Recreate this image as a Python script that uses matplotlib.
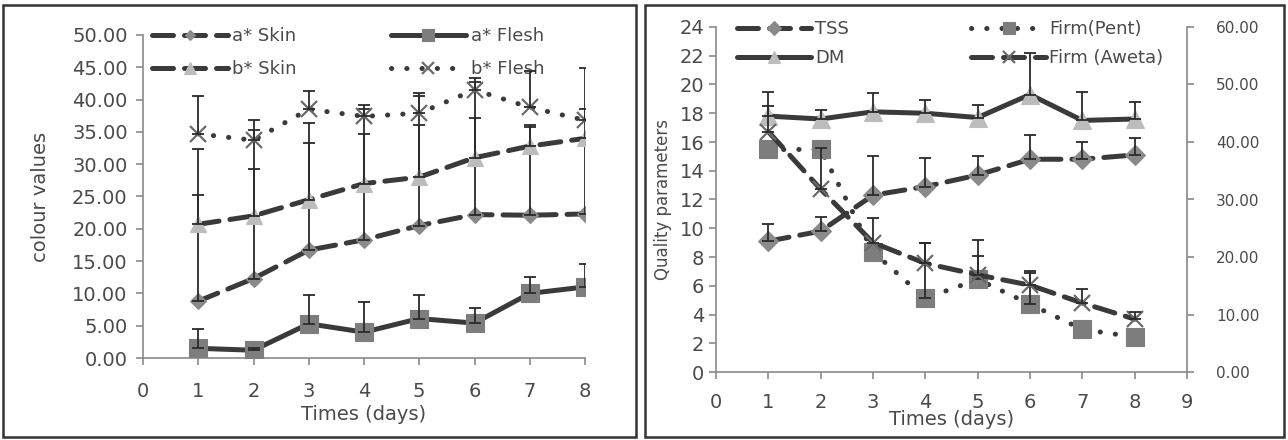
import numpy as np
import matplotlib
matplotlib.use('Agg')
import matplotlib.pyplot as plt
from matplotlib.patches import Rectangle

# %% Data
days = [1, 2, 3, 4, 5, 6, 7, 8]

# left panel: colour values
a_skin = [8.8, 12.3, 16.7, 18.3, 20.5, 22.2, 22.1, 22.3]
a_skin_err = [16.5, 23.0, 16.6, 16.4, 15.5, 15.0, 13.6, 11.7]
a_flesh = [1.5, 1.2, 5.3, 4.0, 6.1, 5.4, 10.0, 11.0]
a_flesh_err = [3.0, 0.3, 4.4, 4.7, 3.7, 2.4, 2.6, 3.5]
b_skin = [20.7, 22.0, 24.5, 27.0, 28.0, 31.0, 32.8, 34.0]
b_skin_err = [11.6, 7.3, 11.9, 11.6, 12.5, 11.8, 3.2, 10.9]
b_flesh = [34.7, 33.7, 38.5, 37.4, 37.9, 41.5, 38.8, 36.8]
b_flesh_err = [5.8, 3.1, 2.8, 1.7, 3.1, 1.8, 5.7, 1.8]

# right panel: quality parameters (left axis) and firmness (right axis)
tss = [9.1, 9.8, 12.3, 12.9, 13.7, 14.8, 14.8, 15.1]
tss_err = [1.2, 1.0, 2.7, 2.0, 1.3, 1.7, 1.2, 1.2]
dm = [17.8, 17.6, 18.1, 18.0, 17.7, 19.3, 17.5, 17.6]
dm_err = [1.7, 0.6, 1.3, 0.9, 0.9, 2.9, 2.0, 1.2]
firm_pent = [38.7, 38.7, 20.9, 12.8, 16.1, 11.8, 7.4, 6.1]
firm_pent_err = [0, 0, 0, 9.6, 4.0, 5.4, 0, 0]
firm_aweta = [41.8, 31.8, 22.5, 18.9, 16.9, 15.1, 12.0, 9.2]
firm_aweta_err = [4.5, 7.1, 4.3, 3.5, 6.1, 2.5, 2.4, 1.3]

left_ticks = [0, 5, 10, 15, 20, 25, 30, 35, 40, 45, 50]
right_ticks = [0, 2, 4, 6, 8, 10, 12, 14, 16, 18, 20, 22, 24]
firm_ticks = [0, 10, 20, 30, 40, 50, 60]

# %% Style
plt.rcParams['font.family'] = ['DejaVu Sans']
LINE = '#3a3a3a'
TXT = '#4a4a4a'
SPINE = '#8a8a8a'
ERR = '#2a2a2a'
DASH = (0, (4.2, 2.2))
DOT = (0, (0.05, 3.0))


def series(ax, y, err, z, ls, marker, ms, mfc, label, lw=3.6):
    ln, = ax.plot(days, y, color=LINE, lw=lw, ls=ls, marker=marker, ms=ms,
                  mfc=mfc, mec=mfc, mew=1.6 if marker == 'x' else 0.8,
                  dash_capstyle='round', solid_capstyle='round',
                  zorder=z, label=label)
    err = np.array(err, dtype=float)
    m = err > 0
    ax.errorbar(np.array(days)[m], np.array(y)[m],
                yerr=[np.zeros(m.sum()), err[m]], fmt='none',
                ecolor=ERR, elinewidth=1.3, capsize=4.5, capthick=1.3,
                zorder=z + 0.5)
    return ln


def style_axis(ax, sides):
    for s in ['top', 'right', 'left', 'bottom']:
        ax.spines[s].set_visible(s in sides)
        ax.spines[s].set_color(SPINE)
        ax.spines[s].set_linewidth(1.2)
    ax.tick_params(colors=SPINE, labelcolor=TXT, direction='out',
                   length=5, width=1.2, labelsize=14)


fig = plt.figure(figsize=(12.88, 4.4), dpi=100)

# panel frames
fig.patches.append(Rectangle((3 / 1288, 3 / 440), 633 / 1288, 432 / 440,
                             transform=fig.transFigure, fill=False,
                             ec='#333333', lw=1.8))
fig.patches.append(Rectangle((645 / 1288, 3 / 440), 639 / 1288, 432 / 440,
                             transform=fig.transFigure, fill=False,
                             ec='#333333', lw=1.8))

leg_kw = dict(ncol=2, loc='upper left', frameon=False, fontsize=13,
              numpoints=1, markerscale=0.7, borderpad=0, borderaxespad=0,
              labelcolor=TXT)

# %% Left panel
ax = fig.add_axes([143 / 1288, 82 / 440, 442 / 1288, 323 / 440])
h1 = series(ax, a_skin, a_skin_err, 2, DASH, 'D', 8, '#8a8a8a', 'a* Skin')
h2 = series(ax, a_flesh, a_flesh_err, 3, '-', 's', 13, '#7d7d7d', 'a* Flesh')
h3 = series(ax, b_skin, b_skin_err, 4, DASH, '^', 12, '#bcbcbc', 'b* Skin')
h4 = series(ax, b_flesh, b_flesh_err, 5, DOT, 'x', 12, '#6a6a6a', 'b* Flesh')
ax.set_xlim(0, 8)
ax.set_ylim(0, 50)
ax.set_xticks(range(0, 9))
ax.set_yticks(left_ticks)
ax.set_yticklabels(['%.2f' % v for v in left_ticks])
style_axis(ax, ['left', 'bottom'])
ax.tick_params(axis='x', pad=12)
ax.tick_params(axis='y', pad=6)
ax.set_xlabel('Times (days)', fontsize=14, color=TXT, labelpad=3)
ax.set_ylabel('colour values', fontsize=14, color=TXT, labelpad=16)
ax.legend(handles=[h1, h3, h2, h4], bbox_to_anchor=(0.02, 1.025),
          handlelength=4.2, handletextpad=0.25, columnspacing=5.2,
          labelspacing=0.85, **leg_kw)

# %% Right panel
axr = fig.add_axes([716 / 1288, 68 / 440, 471 / 1288, 345 / 440])
g1 = series(axr, tss, tss_err, 2, DASH, 'D', 10, '#8a8a8a', 'TSS')
g2 = series(axr, dm, dm_err, 3, '-', '^', 13, '#bcbcbc', 'DM')
axr.set_xlim(0, 9)
axr.set_ylim(0, 24)
axr.set_xticks(range(0, 10))
axr.set_yticks(right_ticks)
style_axis(axr, ['left', 'bottom'])
axr.tick_params(axis='x', pad=10)
axr.set_xlabel('Times (days)', fontsize=14, color=TXT, labelpad=-1)
axr.set_ylabel('Quality parameters', fontsize=12, color=TXT, labelpad=5)

ax2 = axr.twinx()
g3 = series(ax2, firm_pent, firm_pent_err, 4, DOT, 's', 13, '#7d7d7d', 'Firm(Pent)')
g4 = series(ax2, firm_aweta, firm_aweta_err, 5, DASH, 'x', 12, '#6a6a6a', 'Firm (Aweta)')
ax2.set_ylim(0, 60)
ax2.set_yticks(firm_ticks)
ax2.set_yticklabels(['%.2f' % v for v in firm_ticks])
style_axis(ax2, ['right'])
ax2.tick_params(labelsize=11, pad=16)
ax2.legend(handles=[g1, g2, g3, g4], bbox_to_anchor=(0.045, 1.02),
           handlelength=4.1, handletextpad=0.2, columnspacing=6.8,
           labelspacing=0.6, **leg_kw)

fig.savefig('out.png', dpi=100)
